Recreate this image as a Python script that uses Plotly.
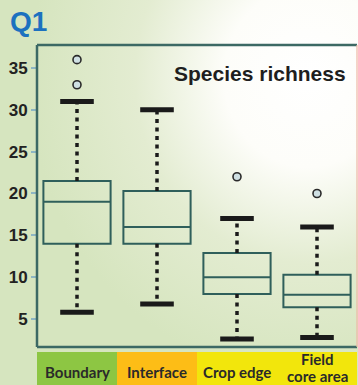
import base64
import plotly.graph_objects as go

# Species richness per habitat zone (box-plot summary statistics)
categories = ["Boundary", "Interface", "Crop edge", "Field core area"]
q1 = [14.0, 14.0, 8.0, 6.4]
median = [19.0, 16.0, 10.0, 7.9]
q3 = [21.5, 20.3, 12.9, 10.3]
lower_whisker = [5.8, 6.8, 2.6, 2.8]
upper_whisker = [31.0, 30.0, 17.0, 16.0]
outliers = [[33.0, 36.0], [], [22.0], [20.0]]
y_ticks = [5, 10, 15, 20, 25, 30, 35]
band_colors = ["#8dc643", "#fdbd16", "#f2e60c", "#f2e60c"]

W, H = 358, 385
M = dict(l=37, r=1, t=45, b=38)
PW = W - M["l"] - M["r"]
PH = H - M["t"] - M["b"]

pos = list(range(len(categories)))

fig = go.Figure()

# boxes (whiskers are drawn separately so they can be dotted with heavy caps)
fig.add_trace(go.Box(
    x=pos, q1=q1, median=median, q3=q3,
    lowerfence=q1, upperfence=q3,
    width=0.84, whiskerwidth=0, boxpoints=False,
    fillcolor="rgba(0,0,0,0)",
    line=dict(color="#2f5f5b", width=2),
    hoverinfo="skip", showlegend=False,
))

# dotted whiskers
wx, wy = [], []
for i in pos:
    wx += [i, i, None, i, i, None]
    wy += [q3[i], upper_whisker[i], None, q1[i], lower_whisker[i], None]
fig.add_trace(go.Scatter(
    x=wx, y=wy, mode="lines",
    line=dict(color="#1a1a1a", width=3.5, dash="4px,4.5px"),
    hoverinfo="skip", showlegend=False,
))

# whisker caps
cap = 0.21
cx, cy = [], []
for i in pos:
    for v in (upper_whisker[i], lower_whisker[i]):
        cx += [i - cap, i + cap, None]
        cy += [v, v, None]
fig.add_trace(go.Scatter(
    x=cx, y=cy, mode="lines",
    line=dict(color="#1a1a1a", width=5),
    hoverinfo="skip", showlegend=False,
))

# outliers
ox, oy = [], []
for i in pos:
    for v in outliers[i]:
        ox.append(i)
        oy.append(v)
fig.add_trace(go.Scatter(
    x=ox, y=oy, mode="markers",
    marker=dict(symbol="circle", size=8, color="#cfe0e3",
                line=dict(color="#2a2a2a", width=1.6)),
    hoverinfo="skip", showlegend=False,
))

# soft green-to-white background
svg = (
    f'<svg xmlns="http://www.w3.org/2000/svg" width="{W}" height="{H}">'
    '<defs><radialGradient id="g" cx="0.86" cy="0.2" r="0.78">'
    '<stop offset="0" stop-color="#ffffff"/>'
    '<stop offset="0.3" stop-color="#fdfdf9"/>'
    '<stop offset="0.62" stop-color="#e3ecd1"/>'
    '<stop offset="1" stop-color="#d6e5bf"/>'
    '</radialGradient></defs>'
    f'<rect width="{W}" height="{H}" fill="url(#g)"/></svg>'
)
src = "data:image/svg+xml;base64," + base64.b64encode(svg.encode()).decode()
fig.add_layout_image(dict(
    source=src, xref="paper", yref="paper",
    x=-M["l"] / PW, y=(PH + M["t"]) / PH,
    sizex=W / PW, sizey=H / PH,
    xanchor="left", yanchor="top", sizing="stretch", layer="below",
))

shapes = []
# category colour bands under the plot
band_top = -5 / PH
band_bot = -(M["b"] + 2) / PH
for i, c in enumerate(band_colors):
    shapes.append(dict(type="rect", xref="x", yref="paper",
                       x0=i - 0.5, x1=i + 0.5, y0=band_bot, y1=band_top,
                       fillcolor=c, line=dict(width=0), layer="above"))
# plot frame
frame = "#3c6964"
shapes += [
    dict(type="line", xref="paper", yref="paper", x0=0, x1=0, y0=0, y1=1,
         line=dict(color=frame, width=2.5)),
    dict(type="line", xref="paper", yref="paper", x0=0, x1=1, y0=1, y1=1,
         line=dict(color=frame, width=2.5)),
    dict(type="line", xref="paper", yref="paper", x0=0, x1=1, y0=0, y1=0,
         line=dict(color=frame, width=2.5)),
    dict(type="line", xref="paper", yref="paper", x0=1, x1=1, y0=0, y1=1,
         line=dict(color="#efb8a6", width=1.2)),
]

annotations = [
    dict(text="Q1", xref="paper", yref="paper",
         x=-29 / PW, y=(M["t"] + PH - 21) / PH, xanchor="left", yanchor="middle",
         showarrow=False,
         font=dict(family="Liberation Sans", size=28, color="#1c71bf", weight="bold")),
    dict(text="Species richness", xref="paper", yref="paper",
         x=311 / PW, y=274 / PH, xanchor="right", yanchor="middle",
         showarrow=False,
         font=dict(family="Liberation Sans", size=21, color="#1e1e1e", weight="bold")),
]
label_font = dict(family="Lato", size=15, color="#2a2a2a", weight="bold")
for i, name in enumerate(categories):
    if name == "Field core area":
        parts = [("Field", -12), ("core area", -29)]
    else:
        parts = [(name, -25)]
    for txt, dy in parts:
        annotations.append(dict(
            text=txt, xref="x", yref="paper", x=i, y=dy / PH,
            xanchor="center", yanchor="middle", showarrow=False, font=label_font,
        ))

fig.update_layout(
    width=W, height=H, margin=M,
    paper_bgcolor="#d9e6c4", plot_bgcolor="rgba(0,0,0,0)",
    shapes=shapes, annotations=annotations,
    xaxis=dict(range=[-0.5, 3.5], showticklabels=False, showgrid=False,
               zeroline=False, ticks=""),
    yaxis=dict(range=[1.65, 37.75], tickvals=y_ticks, showgrid=False,
               zeroline=False, ticks="outside", ticklen=5, tickwidth=1.5,
               tickcolor="#8db6c4",
               tickfont=dict(family="Liberation Sans", size=17, color="#222222",
                             weight="bold")),
    showlegend=False,
)

fig.write_html("out.html")
